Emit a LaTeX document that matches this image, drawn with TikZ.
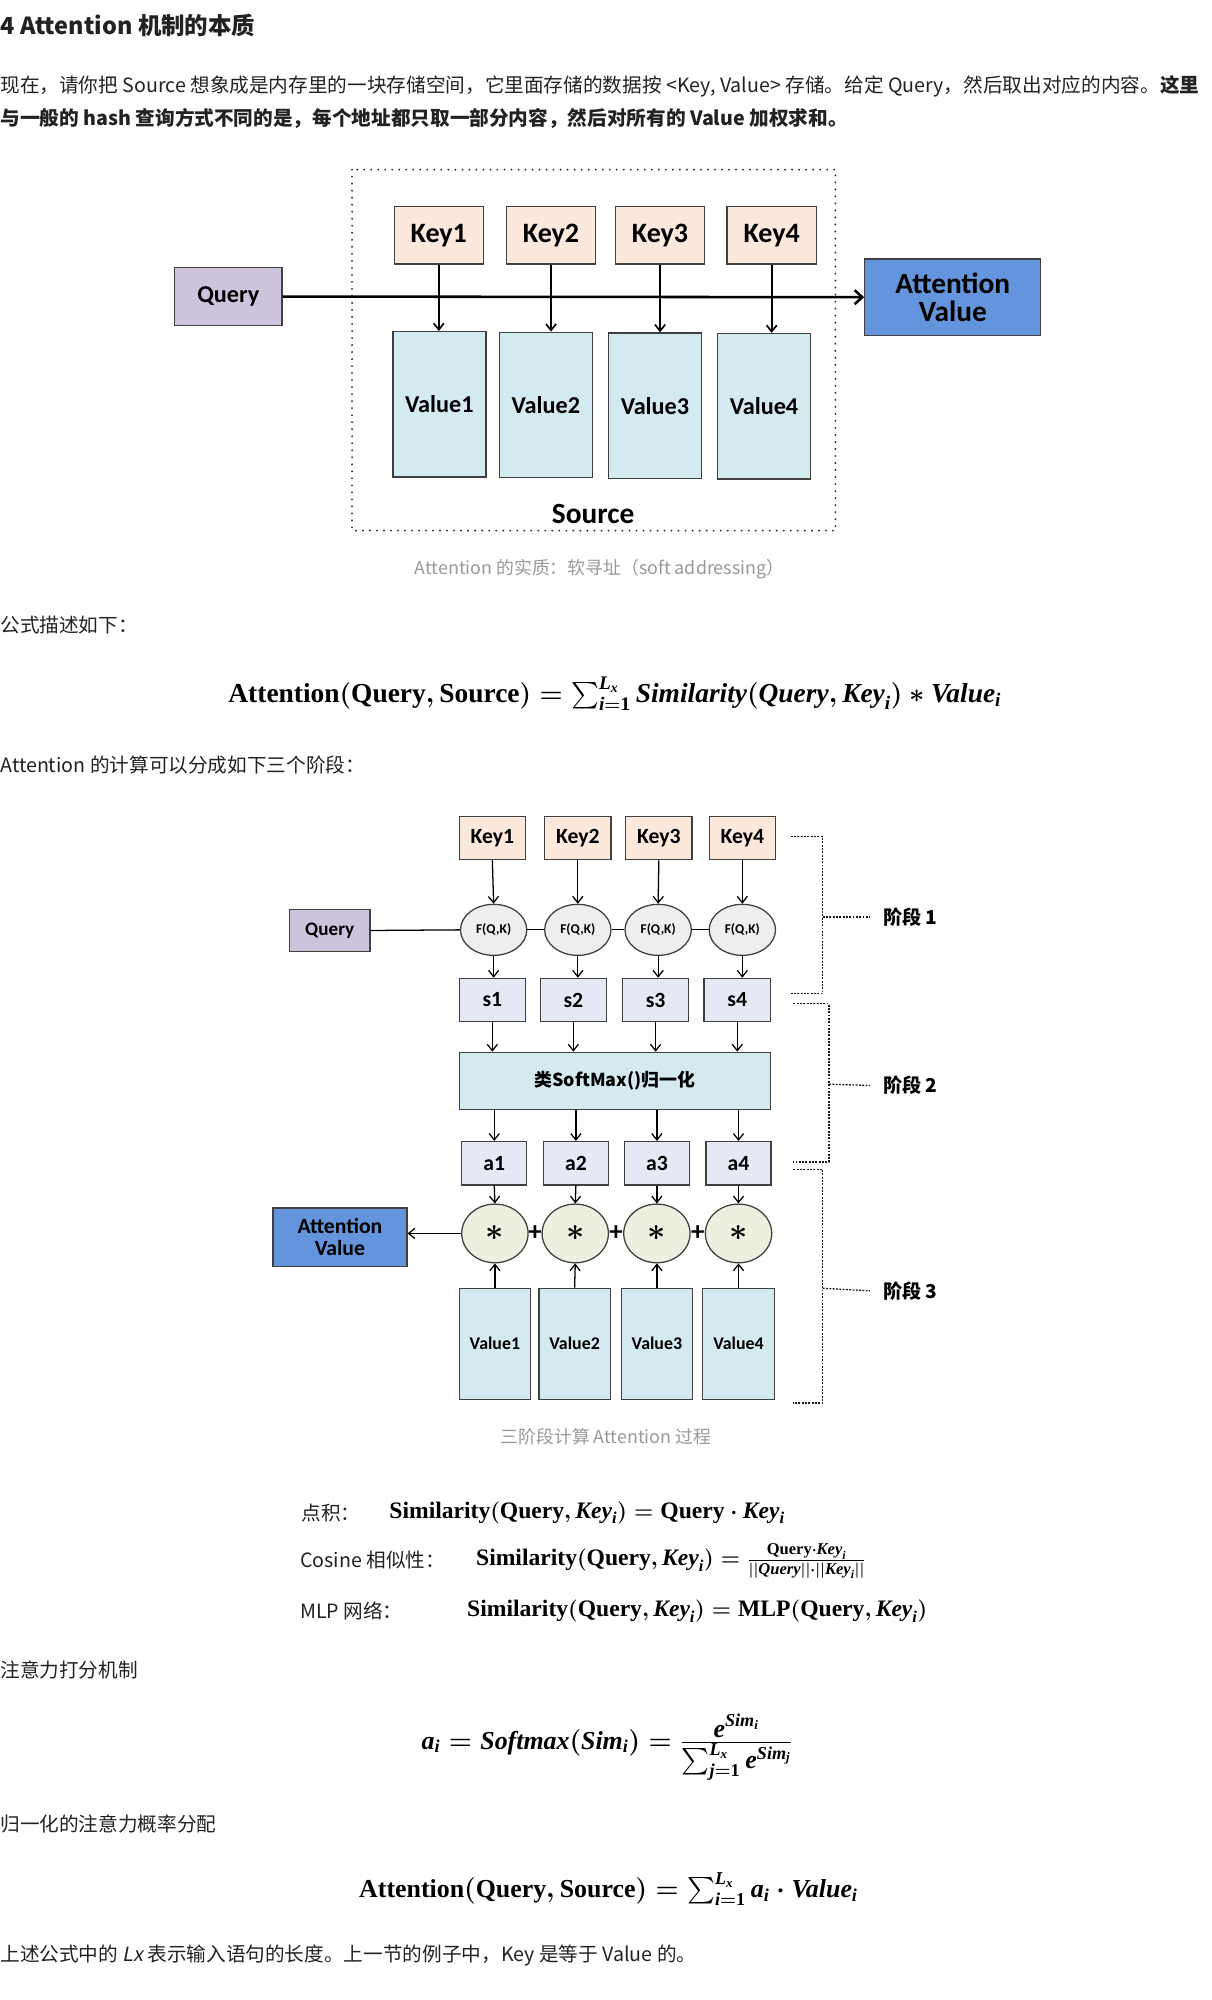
\documentclass[tikz,border=0pt]{standalone}
\usepackage{fontspec}
\usepackage{amsmath}
\usetikzlibrary{arrows.meta,shapes.geometric,positioning}
\newfontfamily\cjk{Noto Sans CJK SC}[AutoFakeSlant=0.2]
\newfontfamily\dgm{Carlito}
\newfontfamily\fml{Liberation Serif}
\newcommand{\fmu}[1]{\text{\fml\bfseries #1}}
\newcommand{\fmi}[1]{\text{\fml\bfseries\itshape #1}}
\definecolor{keyfill}{HTML}{FCE9DB}
\definecolor{qfill}{HTML}{CDC3DC}
\definecolor{avfill}{HTML}{6494DC}
\definecolor{valfill}{HTML}{D3EAF0}
\definecolor{sfill}{HTML}{E4E9F5}
\definecolor{ffill}{HTML}{EEEEF0}
\definecolor{mfill}{HTML}{ECF1DF}
\definecolor{edge}{HTML}{404040}
\definecolor{bodytext}{HTML}{222222}
\definecolor{captext}{HTML}{999999}

\begin{document}
\begin{tikzpicture}[x=1pt,y=-1pt,>={Straight Barb[length=5pt,width=8pt]},
                    semithick]
  \tikzstyle{box}=[rectangle,draw=edge,line width=1pt,inner sep=0pt]
  \tikzstyle{keybox}=[box,fill=keyfill,minimum width=70,minimum height=45,font=\dgm\bfseries\fontsize{22}{24}\selectfont]
  \tikzstyle{valbox}=[box,fill=valfill,minimum width=73,minimum height=114,font=\dgm\bfseries\fontsize{19}{22}\selectfont]
  \tikzstyle{keysm}=[box,fill=keyfill,minimum width=52,minimum height=34,font=\dgm\bfseries\fontsize{17}{20}\selectfont]
  \tikzstyle{fcirc}=[ellipse,draw=edge,line width=1pt,fill=ffill,minimum width=52,minimum height=40,inner sep=0pt,font=\dgm\bfseries\fontsize{10.5}{12}\selectfont]
  \tikzstyle{sbox}=[box,fill=sfill,minimum width=52,minimum height=34,font=\dgm\bfseries\fontsize{17}{20}\selectfont]
  \tikzstyle{mcirc}=[ellipse,draw=edge,line width=1pt,fill=mfill,minimum width=52,minimum height=46,inner sep=0pt,font=\boldmath\fontsize{26}{26}\selectfont]
  \tikzstyle{plus}=[inner sep=0pt,font=\dgm\bfseries\fontsize{21}{21}\selectfont]
  \tikzstyle{valsm}=[box,fill=valfill,minimum width=56,minimum height=87,font=\dgm\bfseries\fontsize{14}{16}\selectfont]
  \tikzstyle{phase}=[anchor=west,inner sep=0pt,font=\cjk\bfseries\fontsize{15}{18}\selectfont]
  \tikzstyle{bracket}=[draw=black!90,line width=1pt,dash pattern=on 1.5pt off 1.1pt]
  \tikzstyle{body}=[anchor=west,inner sep=0pt,text=bodytext,font=\cjk\fontsize{15.4}{18}\selectfont]
  \tikzstyle{caption}=[inner sep=0pt,text=captext,font=\cjk\fontsize{14}{16}\selectfont]
  \tikzstyle{formula}=[inner sep=0pt,text=black]

  \useasboundingbox[fill=white] (0,0) rectangle (950,1568);

  % heading and first paragraph
  \node[body,font=\cjk\bfseries\fontsize{18.4}{21}\selectfont] (title) at (0,20) {4 Attention 机制的本质};
  \node[body] (par1) at (0,68) {现在，请你把 Source 想象成是内存里的一块存储空间，它里面存储的数据按 <Key, Value> 存储。给定 Query，然后取出对应的内容。\textbf{这里}};
  \node[body,font=\cjk\bfseries\fontsize{15.4}{18}\selectfont] (par2) at (0,93) {与一般的 hash 查询方式不同的是，每个地址都只取一部分内容，然后对所有的 Value 加权求和。};

  % soft addressing
  \draw[line width=1.6pt,line cap=round,dash pattern=on 0pt off 5.5pt,draw=black!85] (276,133) rectangle (655,416);
  \node[keybox] (K1) at (344,184.5) {Key1};
  \node[keybox] (K2) at (432,184.5) {Key2};
  \node[keybox] (K3) at (517.5,184.5) {Key3};
  \node[keybox] (K4) at (605,184.5) {Key4};
  \node[valbox] (V1) at (344.5,317) {Value1};
  \node[valbox] (V2) at (428,317.5) {Value2};
  \node[valbox] (V3) at (513.5,318) {Value3};
  \node[valbox] (V4) at (599,318.5) {Value4};
  \node[box,fill=qfill,minimum width=84,minimum height=45,font=\dgm\bfseries\fontsize{19}{22}\selectfont] (Q) at (179,232.5) {Query};
  \node[box,fill=avfill,minimum width=138,minimum height=60,align=center,font=\dgm\bfseries\fontsize{23}{22}\selectfont] (AV) at (747,233) {Attention\\Value};
  \node[inner sep=0pt,font=\dgm\bfseries\fontsize{23}{26}\selectfont] (src) at (465,403) {Source};

  \draw[->,line width=2pt,>={Straight Barb[length=6pt,width=11pt]}] (Q.east) -- (AV.west);
  \draw[->,line width=1.3pt] (K1.south) -- (K1.south |- V1.north);
  \draw[->,line width=1.3pt] (K2.south) -- (K2.south |- V2.north);
  \draw[->,line width=1.3pt] (K3.south) -- (K3.south |- V3.north);
  \draw[->,line width=1.3pt] (K4.south) -- (K4.south |- V4.north);

  \node[caption] (cap1) at (470,446) {Attention 的实质：软寻址（soft addressing）};
  \node[body] (txt1) at (0,490) {公式描述如下：};

  \node[formula,font=\boldmath\fontsize{21.5}{24}\selectfont] (eq1) at (482,544)
    {$\fmu{Attention}(\fmu{Query},\fmu{Source})=\sum_{\fmi{i}=\fmu{1}}^{\fmi{L}_{\fmi{x}}}\fmi{Similarity}(\fmi{Query},\fmi{Key}_{\fmi{i}})*\fmi{Value}_{\fmi{i}}$};

  \node[body] (txt2) at (0,600) {Attention 的计算可以分成如下三个阶段：};

  % three stages
  \node[keysm] (k1) at (386,657) {Key1};
  \node[keysm] (k2) at (453,657) {Key2};
  \node[keysm] (k3) at (516.5,657) {Key3};
  \node[keysm] (k4) at (582,657) {Key4};
  \node[fcirc] (f1) at (387,729) {F(Q,K)};
  \node[fcirc] (f2) at (453,729) {F(Q,K)};
  \node[fcirc] (f3) at (516,729) {F(Q,K)};
  \node[fcirc] (f4) at (582,729) {F(Q,K)};
  \node[box,fill=qfill,minimum width=63,minimum height=33,font=\dgm\bfseries\fontsize{15}{18}\selectfont] (q) at (258.5,729.5) {Query};
  \node[sbox] (s1) at (386,784) {s1};
  \node[sbox] (s2) at (449.5,784) {s2};
  \node[sbox] (s3) at (514,784) {s3};
  \node[sbox] (s4) at (578,784) {s4};
  \node[box,fill=valfill,minimum width=244,minimum height=45,font=\cjk\bfseries\fontsize{14}{16}\selectfont] (norm) at (482,847.5) {类SoftMax()归一化};
  \node[sbox,minimum width=51] (a1) at (387.5,912) {a1};
  \node[sbox,minimum width=51] (a2) at (451.5,912) {a2};
  \node[sbox,minimum width=51] (a3) at (515,912) {a3};
  \node[sbox,minimum width=51] (a4) at (579,912) {a4};
  \node[mcirc] (m1) at (388,967) {$\ast$};
  \node[mcirc] (m2) at (451,967) {$\ast$};
  \node[mcirc] (m3) at (515,967) {$\ast$};
  \node[mcirc] (m4) at (579,967) {$\ast$};
  \node[plus] (p1) at (419.5,967) {+};
  \node[plus] (p2) at (483,967) {+};
  \node[plus] (p3) at (547,967) {+};
  \node[box,fill=avfill,minimum width=105,minimum height=46,align=center,font=\dgm\bfseries\fontsize{17}{17}\selectfont] (av) at (266.5,970) {Attention\\Value};
  \node[valsm] (v1) at (388,1053.5) {Value1};
  \node[valsm] (v2) at (450.5,1053.5) {Value2};
  \node[valsm] (v3) at (515,1053.5) {Value3};
  \node[valsm] (v4) at (579,1053.5) {Value4};

  \draw[line width=1pt] (q.east) -- (f1.west);
  \draw[line width=1pt] (f1.east) -- (f2.west);
  \draw[line width=1pt] (f2.east) -- (f3.west);
  \draw[line width=1pt] (f3.east) -- (f4.west);
  \draw[->,line width=1pt] (k1.south) -- (f1.north);
  \draw[->,line width=1pt] (k2.south) -- (f2.north);
  \draw[->,line width=1pt] (k3.south) -- (f3.north);
  \draw[->,line width=1pt] (k4.south) -- (f4.north);
  \draw[->,line width=1pt] (f1.south) -- (f1.south |- s1.north);
  \draw[->,line width=1pt] (f2.south) -- (f2.south |- s2.north);
  \draw[->,line width=1pt] (f3.south) -- (f3.south |- s3.north);
  \draw[->,line width=1pt] (f4.south) -- (f4.south |- s4.north);
  \draw[->,line width=1pt] (s1.south) -- (s1.south |- norm.north);
  \draw[->,line width=1pt] (s2.south) -- (s2.south |- norm.north);
  \draw[->,line width=1pt] (s3.south) -- (s3.south |- norm.north);
  \draw[->,line width=1pt] (s4.south) -- (s4.south |- norm.north);
  \draw[->,line width=1pt] (a1.north |- norm.south) -- ++(0,6) -- (a1.north);
  \draw[->,line width=1pt] (a2.north |- norm.south) -- ++(0,6) -- (a2.north);
  \draw[->,line width=1pt] (a3.north |- norm.south) -- ++(0,6) -- (a3.north);
  \draw[->,line width=1pt] (a4.north |- norm.south) -- ++(0,6) -- (a4.north);
  \draw[->,line width=1pt] (a1.south) -- (m1.north);
  \draw[->,line width=1pt] (a2.south) -- (m2.north);
  \draw[->,line width=1pt] (a3.south) -- (m3.north);
  \draw[->,line width=1pt] (a4.south) -- (m4.north);
  \draw[->,line width=1pt] (v1.north) -- (m1.south);
  \draw[->,line width=1pt] (v2.north) -- (m2.south);
  \draw[->,line width=1pt] (v3.north) -- (m3.south);
  \draw[->,line width=1pt] (v4.north) -- (m4.south);
  \draw[->,line width=1pt] (m1.west) -- (av.east |- m1.west);

  % stage brackets
  \coordinate (b1a) at (620,656);
  \coordinate (b1b) at (620,779);
  \coordinate (b2a) at (622,787);
  \coordinate (b2b) at (622,911);
  \coordinate (b3a) at (622,917);
  \coordinate (b3b) at (622,1100);
  \node[phase] (st1) at (692,719) {阶段 1};
  \node[phase] (st2) at (692,851) {阶段 2};
  \node[phase] (st3) at (692,1012) {阶段 3};
  \draw[bracket] (b1a) -- ++(25,0) |- (b1b);
  \draw[bracket] (b1a) ++(25,63) -- ([xshift=-10pt]st1.west);
  \draw[bracket] (b2a) -- ++(28,0) |- (b2b);
  \draw[bracket] (b2a) ++(28,63) -- ([xshift=-10pt]st2.west);
  \draw[bracket] (b3a) -- ++(23,0) |- (b3b);
  \draw[bracket] (b3a) ++(23,93) -- ([xshift=-10pt]st3.west);

  \node[caption] (cap2) at (475,1126) {三阶段计算 Attention 过程};

  % similarity
  \node[body] (lb1) at (236,1186) {点积：};
  \node[body] (lb2) at (235,1223) {Cosine 相似性：};
  \node[body] (lb3) at (235,1263) {MLP 网络：};
  \node[formula,anchor=west,font=\boldmath\fontsize{18.5}{20}\selectfont] (eq2) at (305,1186)
    {$\fmu{Similarity}(\fmu{Query},\fmi{Key}_{\fmi{i}})=\fmu{Query}\cdot\fmi{Key}_{\fmi{i}}$};
  \node[formula,anchor=west,font=\boldmath\fontsize{18.5}{20}\selectfont] (eq3) at (373,1224)
    {$\fmu{Similarity}(\fmu{Query},\fmi{Key}_{\fmi{i}})=\frac{\fmu{Query}\cdot\fmi{Key}_{\fmi{i}}}{||\fmi{Query}||\cdot||\fmi{Key}_{\fmi{i}}||}$};
  \node[formula,anchor=west,font=\boldmath\fontsize{18.5}{20}\selectfont] (eq4) at (366,1263)
    {$\fmu{Similarity}(\fmu{Query},\fmi{Key}_{\fmi{i}})=\fmu{MLP}(\fmu{Query},\fmi{Key}_{\fmi{i}})$};

  \node[body] (txt3) at (0,1309) {注意力打分机制};
  \node[formula,font=\boldmath\fontsize{20.3}{24}\selectfont] (eq5) at (476,1370)
    {$\fmi{a}_{\fmi{i}}=\fmi{Softmax}(\fmi{Sim}_{\fmi{i}})=\frac{\displaystyle \fmi{e}^{\fmi{Sim}_{\fmi{i}}}}{\textstyle\sum_{\fmi{j}=\fmu{1}}^{\fmi{L}_{\fmi{x}}}\fmi{e}^{\fmi{Sim}_{\fmi{j}}}}$};
  \node[body] (txt4) at (0,1430) {归一化的注意力概率分配};
  \node[formula,font=\boldmath\fontsize{20.3}{22}\selectfont] (eq6) at (477,1481)
    {$\fmu{Attention}(\fmu{Query},\fmu{Source})=\sum_{\fmi{i}=\fmu{1}}^{\fmi{L}_{\fmi{x}}}\fmi{a}_{\fmi{i}}\cdot\fmi{Value}_{\fmi{i}}$};
  \node[body] (txt5) at (0,1533) {上述公式中的 \textit{Lx} 表示输入语句的长度。上一节的例子中，Key 是等于 Value 的。};
\end{tikzpicture}
\end{document}
